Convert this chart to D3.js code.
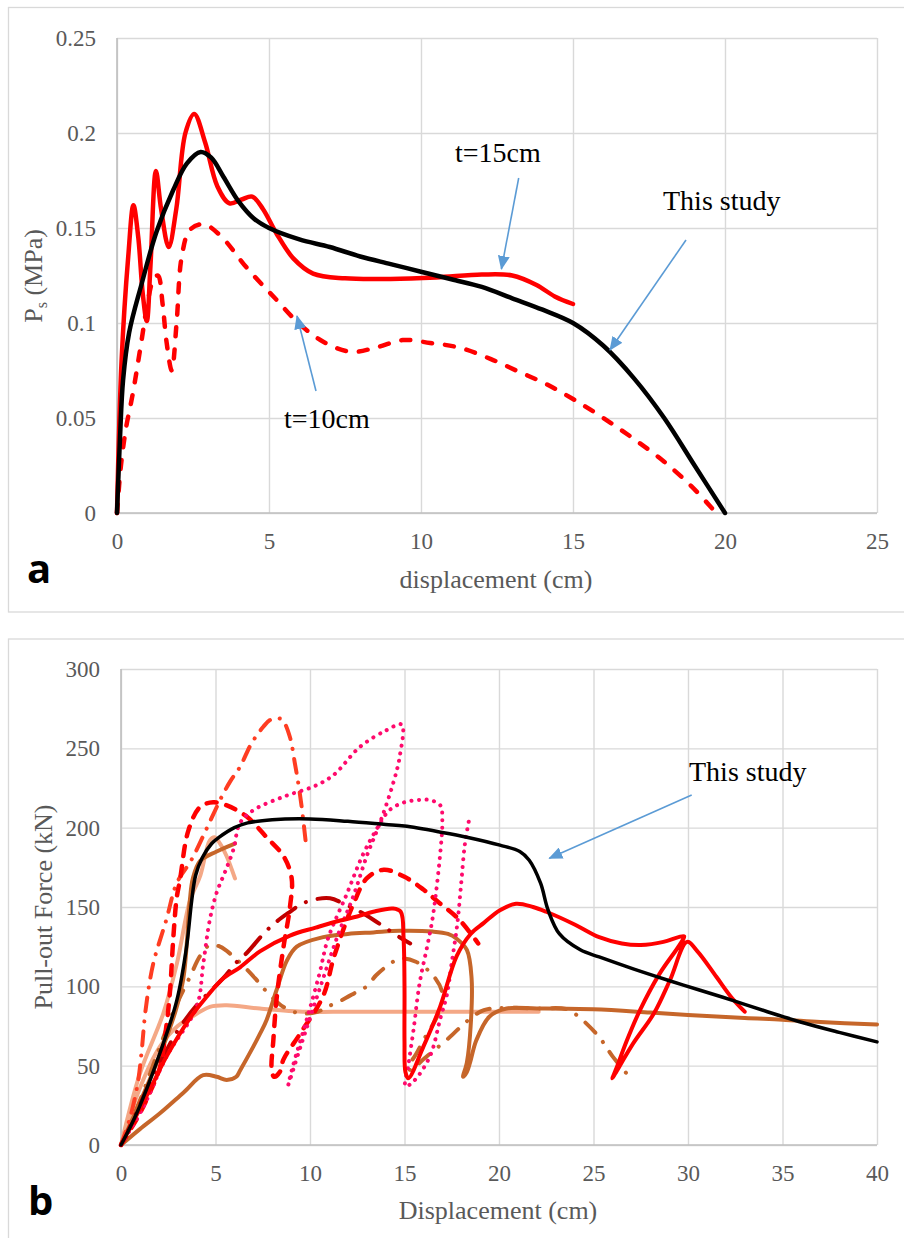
<!DOCTYPE html>
<html>
<head>
<meta charset="utf-8">
<script src="https://cdn.jsdelivr.net/npm/d3@7"></script>
<style>
  body { margin: 0; background: #fff; }
  svg { display: block; }
</style>
</head>
<body>
<script>
// ---------------- Panel a data ----------------
const aXTicks = [0, 5, 10, 15, 20, 25];
const aYTicks = [0, 0.05, 0.1, 0.15, 0.2, 0.25];
const aYTickLabels = ["0", "0.05", "0.1", "0.15", "0.2", "0.25"];
const aThisStudy = [[0,0],[0.1,0.04],[0.2,0.07],[0.4,0.095],[0.8,0.12],[1.3,0.148],[1.85,0.17],[2.3,0.184],[2.75,0.19],[3.1,0.187],[3.5,0.177],[4,0.164],[4.5,0.155],[5,0.15],[6,0.144],[7,0.14],[8,0.135],[9,0.131],[10,0.127],[11,0.123],[12,0.119],[13,0.113],[14,0.107],[15,0.1],[16,0.088],[17,0.071],[18,0.05],[19,0.025],[20,0]];
const aT15 = [[0,0],[0.15,0.08],[0.37,0.135],[0.54,0.162],[0.7,0.145],[0.85,0.115],[0.98,0.101],[1.1,0.13],[1.28,0.18],[1.45,0.16],[1.7,0.14],[1.95,0.16],[2.25,0.2],[2.54,0.21],[2.9,0.195],[3.3,0.172],[3.7,0.163],[4.1,0.165],[4.45,0.1665],[4.8,0.16],[5.25,0.147],[5.8,0.134],[6.45,0.126],[7.5,0.1235],[9,0.1232],[10.5,0.124],[12,0.1255],[13,0.125],[13.8,0.12],[14.4,0.114],[15,0.11]];
const aT10 = [[0,0],[0.13,0.025],[0.3,0.045],[0.51,0.062],[0.8,0.09],[1.0,0.11],[1.2,0.123],[1.35,0.125],[1.5,0.11],[1.63,0.09],[1.8,0.075],[1.96,0.1],[2.13,0.135],[2.4,0.149],[2.85,0.152],[3.4,0.146],[4.3,0.1285],[5.2,0.113],[6.0,0.0995],[6.8,0.09],[7.7,0.0848],[8.5,0.087],[9.4,0.091],[10.3,0.0895],[11.3,0.0869],[12.3,0.081],[13.2,0.0745],[14.1,0.068],[15,0.06],[16,0.05],[17,0.039],[18,0.027],[18.9,0.014],[19.6,0.002]];

// ---------------- Panel b data ----------------
const bXTicks = [0, 5, 10, 15, 20, 25, 30, 35, 40];
const bYTicks = [0, 50, 100, 150, 200, 250, 300];
const bThisStudy = [[0,0],[0.83,20],[2.06,58],[2.95,91],[3.47,125],[3.74,154],[3.95,170],[4.3,181],[4.8,190],[5.2,194],[6,200],[6.7,203],[8,205],[10,205.5],[12,204],[14,202],[15,201],[17,197],[18.3,194],[20.05,189],[21.1,185],[21.6,179.5],[22.2,165],[22.6,148],[23.2,133],[24.3,123],[25.3,118.5],[27.1,111],[28.9,104],[30.6,97.7],[32.4,91],[34.2,84],[35.9,77.7],[38,71],[40,65]];
const bRedSolid = [[0,0],[1.53,35],[2.42,56],[3.65,80],[4.5,93],[5.4,105],[6.3,112],[7.35,122],[8.94,132],[10.3,137],[11.6,141.5],[12.5,144],[13.35,147],[14.4,149],[14.8,147],[14.95,130],[15.0,100],[15.0,65],[15.05,46],[15.2,42],[16.0,62],[16.88,87],[17.76,119],[18.5,133],[19.2,140],[20.05,148],[20.9,152],[21.8,150],[22.5,147],[24,139],[25.3,131],[26.5,127],[27.5,126],[28.7,128],[29.5,131],[29.8,131.5],[29.55,126],[28.5,108],[27.46,85],[26.77,66],[26.2,48],[26,42],[26.15,45],[27.1,64],[28.2,83],[29.05,104],[29.95,128],[30.5,122],[31.5,106],[32.3,93],[33,84]];
const bRedDashed = [[0,0],[1,20],[1.6,35],[2.06,49],[2.4,75],[2.6,98],[2.77,131],[2.95,156],[3.12,167],[3.56,198],[4.18,213],[4.88,216],[5.6,214],[6.65,207],[7.7,194],[8.6,182],[9.03,168],[8.94,150],[8.6,125],[8.24,93],[8.06,66],[7.97,48],[8.1,43],[8.4,46],[8.6,54],[9.47,70],[10.7,94],[11.23,117],[11.8,137],[12.3,152],[13,168],[13.9,173.5],[15.0,169],[16.0,161],[16.8,153],[17.9,142],[18.9,127]];
const bOrangeDashDot = [[0,0],[0.5,18],[0.9,40],[1.1,60],[1.3,85],[1.7,114],[2.4,142],[2.95,165],[3.74,180],[4.71,204],[5.33,219.5],[5.77,229],[6.3,238.4],[6.9,253],[7.53,263.6],[7.88,267.8],[8.3,269],[8.55,267.8],[8.94,257],[9.2,240.5],[9.38,228],[9.56,213],[9.82,186]];
const bDarkRedDashDot = [[0,0],[0.8,20],[1.7,44],[2.33,58],[3,72],[4,88],[5.4,105],[6.1,115],[6.65,121],[7.53,133],[8.15,140],[8.94,147],[9.56,152],[10.35,155],[11.06,155.5],[11.8,152],[12.65,147],[13.35,142],[14.6,132],[15.3,127]];
const bPinkDotted = [[0,0],[1.18,24],[2.42,56],[4.0,87],[4.35,114],[4.7,142],[5.06,159],[5.5,172],[5.94,186],[6.3,203],[7.0,211],[8.6,219.5],[10.2,226],[11.23,233],[12.65,251],[14.06,261.5],[14.85,265],[14.75,245],[14.4,228],[13.7,203],[13.0,182],[12.3,157],[11.5,133],[10.5,98],[9.5,62],[8.85,38],[9.1,50],[9.8,78],[10.5,108],[10.95,130],[11.94,158],[12.8,183],[13.5,198.5],[14.2,211],[15,216],[15.8,217.5],[16.35,217.4],[16.9,214],[17.0,205],[16.9,185],[16.5,144],[16.25,128],[15.8,102],[15.47,72],[15.2,50],[15.05,37],[15.47,40],[16.35,56],[16.9,80],[17.23,94],[17.5,115],[17.8,140],[18.0,165],[18.2,190],[18.45,207]];
const bBrownSolidLong = [[0,0],[1,10],[2.06,20],[3.3,33],[4.35,44],[5.06,43],[5.59,41],[6.1,43],[6.3,47],[7.0,62],[7.35,70],[7.71,79],[8.24,98],[8.77,116],[9.3,125],[10.7,131],[12,133],[13.35,134],[14.76,135],[16.5,134.5],[17.3,133],[17.76,130],[18.3,123],[18.55,105],[18.5,75],[18.3,52],[18.1,43],[18.3,46],[18.47,52],[18.8,66],[19.5,81],[20.4,86],[22,86],[25,85.5],[28,83.5],[30,82],[33,80],[35,79],[37,77.5],[40,76]];
const bBrownSolidShort = [[0,0],[1,27],[2,55],[2.9,85],[3.3,105],[3.5,130],[3.65,155],[3.8,168],[4.18,179],[5.06,185],[6.03,190]];
const bSalmonSteep = [[0,0],[1,45],[2.24,83],[2.95,114],[3.65,154],[4.2,170],[4.7,192],[4.95,194],[5.24,190],[5.59,182],[6.03,168]];
const bSalmonFlat = [[0,0],[1,36],[2.06,62],[3,75],[3.65,80],[4.7,87],[5.6,88],[7.35,86],[9.8,84],[12,84],[15,84],[18,84],[20,84],[22.1,84]];
const bBrownDashDot = [[0,0],[1,28],[2,60],[2.8,85],[3.65,106],[4.18,119],[4.7,126],[5.24,125],[6.2,116],[7.1,105],[7.6,98],[8.6,87],[9.47,83],[10.4,84],[10.9,87],[11.7,91.4],[12.4,96],[13.0,100],[13.5,107],[14.1,113],[14.76,117.5],[15.6,115.5],[16.5,107],[17.0,96],[16.9,86],[16.6,78],[16.1,68],[15.6,57],[15.2,49],[15.35,47],[15.9,53],[16.5,59],[17.4,68],[18.3,78],[19.2,85],[20.4,86.5],[22,86],[23.6,85.5],[24.3,80],[25.3,68],[26,56],[26.9,43]];

// ---------------- Drawing ----------------
const W = 904, H = 1238;
const svg = d3.select("body").append("svg").attr("width", W).attr("height", H)
  .style("font-family", "'Liberation Serif','Times New Roman',serif");

const defs = svg.append("defs");
defs.append("marker").attr("id", "arrowBlue")
  .attr("viewBox", "0 0 14 12").attr("refX", 13).attr("refY", 6)
  .attr("markerWidth", 14).attr("markerHeight", 12)
  .attr("markerUnits", "userSpaceOnUse").attr("orient", "auto")
  .append("path").attr("d", "M0,0 L14,6 L0,12 Z").attr("fill", "#5b9bd5");

// panel frames
svg.append("rect").attr("x", 8.5).attr("y", 7.5).attr("width", 900).attr("height", 604.5)
  .attr("fill", "none").attr("stroke", "#d9d9d9").attr("stroke-width", 1.3);
svg.append("rect").attr("x", 8.5).attr("y", 639).attr("width", 900).attr("height", 610)
  .attr("fill", "none").attr("stroke", "#d9d9d9").attr("stroke-width", 1.3);

const GRID = "#d9d9d9", AXIS = "#bfbfbf", TICKTXT = "#595959";

function frame(x, y, xTicks, yTicks, yFmt) {
  const [x0, x1] = x.range(), [y0, y1] = y.range();
  const g = svg.append("g");
  const gx = g.append("g").attr("transform", `translate(0,${y0})`)
    .call(d3.axisBottom(x).tickValues(xTicks).tickSize(-(y0 - y1)).tickPadding(20).tickFormat(d3.format("d")));
  gx.select(".domain").remove();
  gx.selectAll("line").attr("stroke", GRID).attr("stroke-width", 1.4);
  gx.selectAll("text").attr("fill", TICKTXT).style("font-size", "23px").style("font-family", "'Liberation Serif',serif");
  const gy = g.append("g").attr("transform", `translate(${x0},0)`)
    .call(d3.axisLeft(y).tickValues(yTicks).tickSize(-(x1 - x0)).tickPadding(21).tickFormat(yFmt));
  gy.select(".domain").remove();
  gy.selectAll("line").attr("stroke", GRID).attr("stroke-width", 1.4);
  gy.selectAll("text").attr("fill", TICKTXT).style("font-size", "23px").style("font-family", "'Liberation Serif',serif");
  g.append("line").attr("x1", x0).attr("x2", x0).attr("y1", y1).attr("y2", y0).attr("stroke", AXIS).attr("stroke-width", 1.6);
  g.append("line").attr("x1", x0).attr("x2", x1).attr("y1", y0).attr("y2", y0).attr("stroke", AXIS).attr("stroke-width", 1.6);
}

function drawSeries(x, y, data, color, width, dash) {
  const line = d3.line().x(d => x(d[0])).y(d => y(d[1])).curve(d3.curveCatmullRom.alpha(0.5));
  const p = svg.append("path").attr("d", line(data)).attr("fill", "none")
    .attr("stroke", color).attr("stroke-width", width)
    .attr("stroke-linecap", "round").attr("stroke-linejoin", "round");
  if (dash) p.attr("stroke-dasharray", dash);
  return p;
}

function arrow(x1, y1, x2, y2) {
  svg.append("line").attr("x1", x1).attr("y1", y1).attr("x2", x2).attr("y2", y2)
    .attr("stroke", "#5b9bd5").attr("stroke-width", 1.6).attr("marker-end", "url(#arrowBlue)");
}

function label(txt, xPos, yPos, size, anchor) {
  return svg.append("text").attr("x", xPos).attr("y", yPos).attr("text-anchor", anchor || "start")
    .attr("fill", "#000").style("font-size", size + "px").style("font-family", "'Liberation Serif',serif").text(txt);
}

// ----- Panel a -----
const ax = d3.scaleLinear().domain([0, 25]).range([117, 877]);
const ay = d3.scaleLinear().domain([0, 0.25]).range([513, 38]);
frame(ax, ay, aXTicks, aYTicks, (d, i) => aYTickLabels[i]);

drawSeries(ax, ay, aT10, "#ff0000", 4.5, "9,13");
drawSeries(ax, ay, aT15, "#ff0000", 4.5);
drawSeries(ax, ay, aThisStudy, "#000000", 4.5);

svg.append("text").attr("x", 496).attr("y", 588).attr("text-anchor", "middle")
  .attr("fill", TICKTXT).style("font-size", "26px").text("displacement (cm)");
const ayt = svg.append("text").attr("transform", "translate(42,276) rotate(-90)").attr("text-anchor", "middle")
  .attr("fill", TICKTXT).style("font-size", "26px");
ayt.append("tspan").text("P");
ayt.append("tspan").attr("dy", 5).style("font-size", "16px").text("s");
ayt.append("tspan").attr("dy", -5).text(" (MPa)");

label("t=15cm", 455, 162, 28);
label("This study", 663, 210, 28);
label("t=10cm", 284, 428, 28);
arrow(518.7, 178, 501.4, 269);
arrow(686, 240, 610, 350);
arrow(316, 391, 297, 316);

svg.append("text").attr("x", 27).attr("y", 583).attr("fill", "#000")
  .style("font-family", "'Open Sans',sans-serif").style("font-weight", 700).style("font-size", "40px").text("a");

// ----- Panel b -----
const bx = d3.scaleLinear().domain([0, 40]).range([121, 877]);
const by = d3.scaleLinear().domain([0, 300]).range([1145, 669]);
frame(bx, by, bXTicks, bYTicks, d3.format("d"));

const SALMON = "#f4a886", BROWN = "#c6662a", DARKRED = "#c00000", ORANGERED = "#ff3d22", PINK = "#ff0a6c", RED = "#ff0000";
drawSeries(bx, by, bSalmonFlat, SALMON, 4);
drawSeries(bx, by, bBrownSolidLong, BROWN, 4);
drawSeries(bx, by, bSalmonSteep, SALMON, 4);
drawSeries(bx, by, bBrownSolidShort, BROWN, 4);
drawSeries(bx, by, bBrownDashDot, BROWN, 4, "14,12,0.1,12");
drawSeries(bx, by, bDarkRedDashDot, DARKRED, 4, "22,12,0.1,12");
drawSeries(bx, by, bOrangeDashDot, ORANGERED, 4, "14,10,0.1,10");
drawSeries(bx, by, bRedDashed, RED, 4.5, "10,10");
drawSeries(bx, by, bPinkDotted, PINK, 4, "0.1,7.5");
drawSeries(bx, by, bRedSolid, RED, 4);
drawSeries(bx, by, bThisStudy, "#000000", 3.5);

svg.append("text").attr("x", 498).attr("y", 1219).attr("text-anchor", "middle")
  .attr("fill", TICKTXT).style("font-size", "26px").text("Displacement (cm)");
svg.append("text").attr("transform", "translate(52,907) rotate(-90)").attr("text-anchor", "middle")
  .attr("fill", TICKTXT).style("font-size", "26px").text("Pull-out Force (kN)");

label("This study", 689, 781, 28);
arrow(691.7, 795, 549.3, 858.3);

svg.append("text").attr("x", 28).attr("y", 1215).attr("fill", "#000")
  .style("font-family", "'Open Sans',sans-serif").style("font-weight", 700).style("font-size", "40px").text("b");
</script>
</body>
</html>
